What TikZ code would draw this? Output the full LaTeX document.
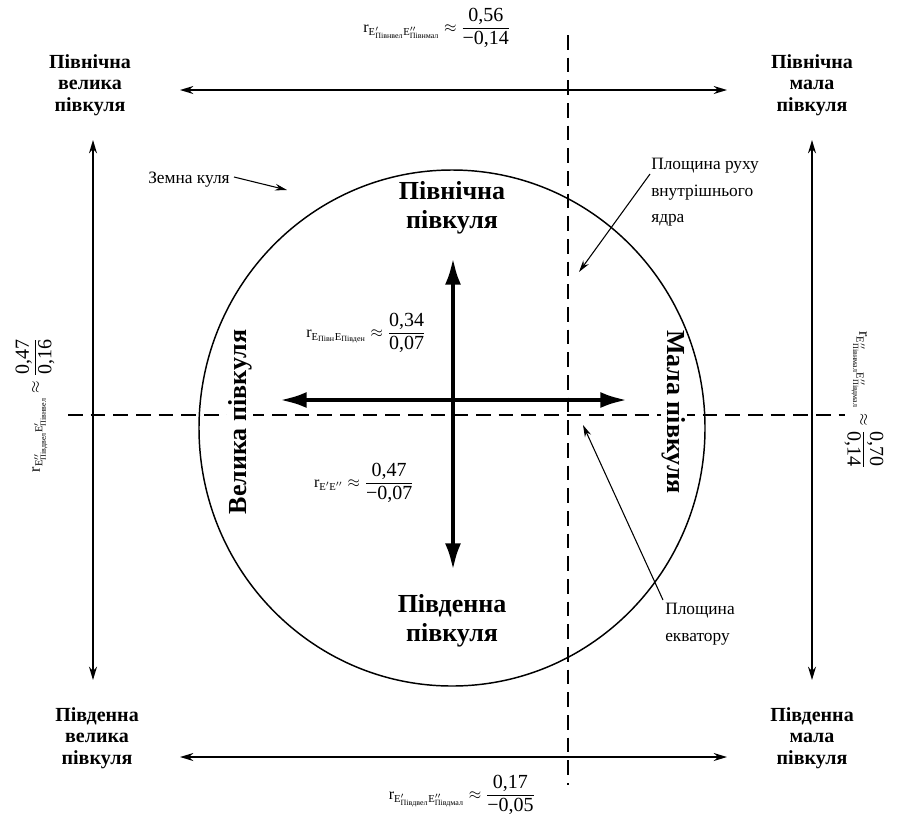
\documentclass[tikz,border=0pt]{standalone}
\usepackage{amsmath}
\usepackage{fontspec}
\setmainfont{Liberation Serif}
\usetikzlibrary{arrows.meta,shapes.geometric}
\newcommand{\tx}[1]{\text{#1}}
\newcommand{\fr}[2]{\dfrac{\text{\fontsize{15}{17}\selectfont #1}}{\text{\fontsize{15}{17}\selectfont #2}}}
\tikzset{
  corner/.style={font=\bfseries\fontsize{15}{16}\selectfont, align=center, inner sep=0pt},
  big/.style={font=\bfseries\fontsize{19.5}{22}\selectfont, align=center, inner sep=0pt},
  side/.style={font=\bfseries\fontsize{19.5}{22}\selectfont, inner sep=1pt, fill=white},
  note/.style={font=\fontsize{13}{20}\selectfont, align=left, inner sep=0pt},
  formula/.style={font=\fontsize{12}{14}\selectfont, inner sep=0pt},
  thinarrow/.style={line width=1.1pt, {Stealth[length=10pt,width=6pt]}-{Stealth[length=10pt,width=6pt]}},
  pointer/.style={line width=0.8pt, -{Stealth[length=9pt,width=5pt]}},
  thickarrow/.style={line width=3pt, {Latex[length=20pt,width=12pt]}-{Latex[length=20pt,width=12pt]}},
  dashline/.style={line width=0.9pt, dash pattern=on 11pt off 6pt},
}
\begin{document}
\begin{tikzpicture}[x=0.75pt,y=-0.75pt]
\useasboundingbox (0,0) rectangle (902,822);
\fill[white] (0,0) rectangle (902,822);

% dashed planes
\coordinate (vt) at (568,35);
\coordinate (vb) at (568,785);
\coordinate (hl) at (68,415);
\coordinate (hr) at (845,415);
\draw[dashline] (vt) -- (vb);
\draw[dashline] (hl) -- (hr);

% side labels (cover the dashed line)
\node[side, rotate=90] (great) at (240,422) {Велика півкуля};
\node[side, rotate=-90] (small) at (674,412) {Мала півкуля};

% earth
\node[draw, line width=1.1pt, ellipse, minimum width=506*0.75pt, minimum height=516*0.75pt, inner sep=0pt] (earth) at (452,428) {};

% outer arrows
\coordinate (ta) at (180,90);  \coordinate (tb) at (727,90);
\coordinate (ba) at (180,757); \coordinate (bb) at (727,757);
\coordinate (la) at (93,140);  \coordinate (lb) at (93,680);
\coordinate (ra) at (812,140); \coordinate (rb) at (812,680);
\draw[thinarrow] (ta) -- (tb);
\draw[thinarrow] (ba) -- (bb);
\draw[thinarrow] (la) -- (lb);
\draw[thinarrow] (ra) -- (rb);

% thick arrows
\coordinate (va) at (453,258); \coordinate (vbb) at (453,570);
\coordinate (ha) at (280,400); \coordinate (hb) at (627,400);
\draw[thickarrow] (va) -- (vbb);
\draw[thickarrow] (ha) -- (hb);

% corner labels
\node[corner] (nw) at (90,85) {Північна\\велика\\півкуля};
\node[corner] (ne) at (812,85) {Північна\\мала\\півкуля};
\node[corner] (sw) at (97,738) {Південна\\велика\\півкуля};
\node[corner] (se) at (812,738) {Південна\\мала\\півкуля};

% inner labels
\node[big] (north) at (452,208) {Північна\\півкуля};
\node[big] (south) at (452,621) {Південна\\півкуля};

% notes
\node[note, anchor=west] (zemna) at (148,180) {Земна куля};
\coordinate (zs) at (234,177);
\coordinate (zt) at (287,190);
\draw[pointer] (zs) -- (zt);

\node[note, anchor=north west] (core) at (651,158) {Площина руху\\внутрішнього\\ядра};
\coordinate (ct) at (579,272);
\coordinate (cs) at (650,174);
\draw[pointer] (cs) -- (ct);

\node[note, anchor=north west] (eq) at (665,603) {Площина\\екватору};
\coordinate (et) at (583,425);
\coordinate (es) at (663,600);
\draw[pointer] (es) -- (et);

% formulas
\node[formula] (ftop) at (437,28) {$\tx{r}_{\tx{E}'_{\tx{Півнвел}}\tx{E}''_{\tx{Півнмал}}}\approx\fr{0,56}{−0,14}$};
\node[formula] (fbot) at (462,795) {$\tx{r}_{\tx{E}'_{\tx{Півдвел}}\tx{E}''_{\tx{Півдмал}}}\approx\fr{0,17}{−0,05}$};
\node[formula] (fmid1) at (366,333) {$\tx{r}_{\tx{E}_{\tx{Півн}}\tx{E}_{\tx{Півден}}}\approx\fr{0,34}{0,07}$};
\node[formula] (fmid2) at (364,483) {$\tx{r}_{\tx{E}'\tx{E}''}\approx\fr{0,47}{−0,07}$};
\node[formula, rotate=90] (fleft) at (35,405) {$\tx{r}_{\tx{E}''_{\tx{Півдвел}}\tx{E}'_{\tx{Півнвел}}}\approx\fr{0,47}{0,16}$};
\node[formula, rotate=-90] (fright) at (864,400) {$\tx{r}_{\tx{E}''_{\tx{Півнмал}}\tx{E}''_{\tx{Півдмал}}}\approx\fr{0,70}{0,14}$};
\end{tikzpicture}
\end{document}
